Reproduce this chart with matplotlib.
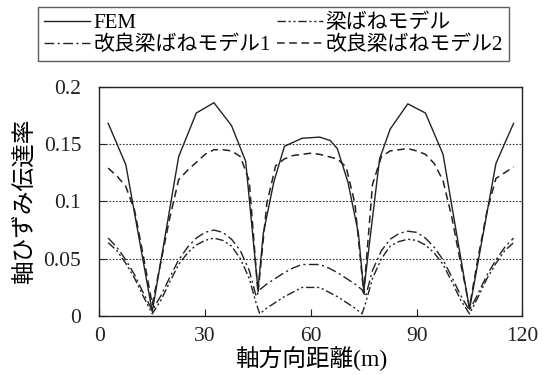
import matplotlib
matplotlib.use('Agg')
import matplotlib.pyplot as plt

plt.rcParams['font.family'] = ['Liberation Serif', 'Noto Sans CJK JP']

# FEM
fem_x = [2.5, 7.5, 15, 22.5, 27.5, 32.5, 37.5, 41.5, 45, 46.5, 49.5, 52.5, 57.5, 62.5,
         65.5, 67.5, 70.5, 73.5, 75, 79.5, 82.5, 87.5, 92.5, 97.5, 105, 112.5, 117.5]
fem_y = [0.168, 0.132, 0.004, 0.139, 0.177, 0.186, 0.166, 0.135, 0.023, 0.072, 0.117, 0.148, 0.155, 0.156,
         0.153, 0.146, 0.117, 0.072, 0.022, 0.137, 0.163, 0.185, 0.177, 0.141, 0.006, 0.133, 0.168]

# 改良梁ばねモデル2
k2_x = [2.5, 5, 7.5, 10, 12.5, 15, 17.5, 20, 22.5, 25, 27.5, 30, 32.5, 35, 37.5, 40, 42.5, 45,
        47.5, 50, 52.5, 55, 57.5, 60, 62.5, 65, 67.5, 70, 72.5, 75,
        77.5, 80, 82.5, 85, 87.5, 90, 92.5, 95, 97.5, 100, 102.5, 105, 107.5, 110, 112.5, 115, 117.5]
k2_y = [0.129, 0.122, 0.113, 0.092, 0.052, 0.010, 0.048, 0.086, 0.119, 0.127, 0.134, 0.141, 0.145, 0.145,
        0.144, 0.139, 0.118, 0.020,
        0.098, 0.131, 0.137, 0.140, 0.141, 0.142, 0.141, 0.139, 0.137, 0.130, 0.098, 0.020,
        0.115, 0.139, 0.144, 0.145, 0.146, 0.144, 0.141, 0.133, 0.118, 0.086, 0.046, 0.008,
        0.052, 0.092, 0.120, 0.125, 0.130]

# 改良梁ばねモデル1 / 梁ばねモデル (same stations)
kx = [2.5, 5, 7.5, 10, 12.5, 15, 17.5, 20, 22.5, 25, 27.5, 30, 32.5, 35, 37.5, 40, 42.5, 44.5,
      45.5, 47.5, 50, 52.5, 55, 57.5, 60, 62.5, 65, 67.5, 70, 72.5, 74.5,
      75.5, 77.5, 80, 82.5, 85, 87.5, 90, 92.5, 95, 97.5, 100, 102.5, 105, 107.5, 110, 112.5, 115, 117.5]
k1_y = [0.068, 0.060, 0.049, 0.036, 0.020, 0.005, 0.018, 0.034, 0.049, 0.060, 0.068, 0.073, 0.075, 0.073,
        0.067, 0.057, 0.040, 0.017,
        0.023, 0.028, 0.033, 0.038, 0.042, 0.045, 0.045, 0.045, 0.042, 0.038, 0.033, 0.028, 0.023,
        0.017, 0.040, 0.057, 0.067, 0.072, 0.074, 0.073, 0.068, 0.060, 0.049, 0.034, 0.018, 0.005,
        0.020, 0.036, 0.049, 0.060, 0.068]
kb_y = [0.064, 0.057, 0.046, 0.033, 0.017, 0.002, 0.014, 0.030, 0.045, 0.055, 0.062, 0.066, 0.068, 0.066,
        0.061, 0.050, 0.033, 0.011,
        0.002, 0.007, 0.012, 0.017, 0.021, 0.025, 0.025, 0.025, 0.021, 0.017, 0.012, 0.007, 0.002,
        0.011, 0.033, 0.050, 0.061, 0.065, 0.067, 0.066, 0.062, 0.055, 0.045, 0.030, 0.014, 0.002,
        0.017, 0.033, 0.046, 0.057, 0.064]

yticks = [0, 0.05, 0.1, 0.15, 0.2]
ytick_labels = ['0', '0.05', '0.1', '0.15', '0.2']
xticks = [0, 30, 60, 90, 120]

fig = plt.figure(figsize=(5.43, 3.75), dpi=100)
ax = fig.add_axes([0.183, 0.157, 0.779, 0.612])

c = '#222222'
l_fem, = ax.plot(fem_x, fem_y, color=c, lw=1.0, ls='-', label='FEM')
l_kb, = ax.plot(kx, kb_y, color=c, lw=1.0, ls=(0, (6, 2, 1.5, 2, 1.5, 2)), label='梁ばねモデル')
l_k1, = ax.plot(kx, k1_y, color=c, lw=1.0, ls=(0, (7, 2.5, 1.5, 2.5)), label='改良梁ばねモデル1')
l_k2, = ax.plot(k2_x, k2_y, color=c, lw=1.1, ls=(0, (5, 3)), label='改良梁ばねモデル2')

ax.set_xlim(0, 120)
ax.set_ylim(0, 0.2)
ax.set_xticks(xticks)
ax.set_xticklabels([str(v) for v in xticks])
ax.set_yticks(yticks)
ax.set_yticklabels(ytick_labels)
ax.yaxis.grid(True, ls=(0, (1.5, 1.5)), color='#333333', lw=0.8)
ax.tick_params(direction='in', length=5, labelsize=15.5, colors='#222222')
ax.tick_params(axis='y', pad=13)
ax.tick_params(axis='x', pad=8)
for s in ax.spines.values():
    s.set_color('#222222')
    s.set_linewidth(1.0)

ax.set_xlabel('軸方向距離(m)', fontsize=17, labelpad=-1)
ax.set_ylabel('軸ひずみ伝達率', fontsize=17, labelpad=5)

fig.legend([l_fem, l_k1, l_kb, l_k2],
           ['FEM', '改良梁ばねモデル1', '梁ばねモデル', '改良梁ばねモデル2'],
           ncol=2, loc='upper left', bbox_to_anchor=(38 / 543, 1 - 7 / 375),
           fontsize=15, frameon=True, fancybox=False, edgecolor='#333333',
           handlelength=2.2, handletextpad=0.15, columnspacing=0.3,
           labelspacing=0.12, borderpad=0.3, borderaxespad=0)

fig.savefig('out.png', dpi=100)
